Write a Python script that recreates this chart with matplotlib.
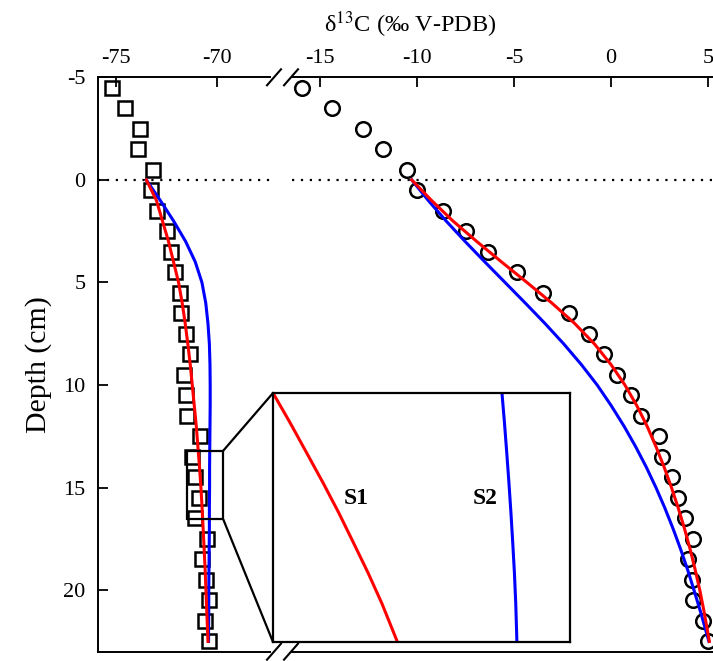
import matplotlib

matplotlib.use("Agg")
import matplotlib.pyplot as plt
from matplotlib.lines import Line2D
from matplotlib.patches import ConnectionPatch, Rectangle

plt.rcParams["font.family"] = ["Liberation Serif", "DejaVu Serif"]
plt.rcParams["mathtext.fontset"] = "stix"
plt.rcParams["axes.unicode_minus"] = False

# measured profiles (depth in cm, d13C in permil)
sample_depth = [-4.5, -3.5, -2.5, -1.5, -0.5, 0.5, 1.5, 2.5, 3.5, 4.5, 5.5, 6.5, 7.5, 8.5,
                9.5, 10.5, 11.5, 12.5, 13.5, 14.5, 15.5, 16.5, 17.5, 18.5, 19.5, 20.5,
                21.5, 22.5]
ch4_d13c = [-75.21, -74.55, -73.81, -73.91, -73.16, -73.27, -72.95, -72.45, -72.28, -72.06,
            -71.82, -71.78, -71.52, -71.32, -71.62, -71.52, -71.48, -70.82, -71.23, -71.07,
            -70.91, -71.07, -70.49, -70.74, -70.52, -70.41, -70.57, -70.41]
dic_d13c = [-15.94, -14.40, -12.77, -11.74, -10.53, -10.02, -8.64, -7.47, -6.32, -4.86,
            -3.49, -2.16, -1.12, -0.34, 0.29, 1.01, 1.57, 2.50, 2.61, 3.13, 3.47, 3.81,
            4.24, 3.98, 4.16, 4.21, 4.76, 5.02]

# model runs S1 (red) and S2 (blue)
model_depth = [0, 1, 2, 3, 4, 5, 6, 7, 8, 9, 10, 11, 12, 13, 14, 15, 16, 17, 18, 19, 20,
               21, 22, 22.5]
ch4_s1 = [-73.5, -73.0, -72.7, -72.4, -72.15, -71.9, -71.72, -71.57, -71.44, -71.32,
          -71.22, -71.12, -71.02, -70.94, -70.86, -70.79, -70.73, -70.68, -70.63, -70.58,
          -70.54, -70.5, -70.46, -70.44]
ch4_s2 = [-73.5, -72.81, -72.15, -71.55, -71.07, -70.74, -70.55, -70.44, -70.37, -70.34,
          -70.33, -70.33, -70.34, -70.35, -70.36, -70.36, -70.37, -70.37, -70.38, -70.39,
          -70.4, -70.4, -70.41, -70.41]
dic_s1 = [-10.27, -9.25, -8.15, -6.92, -5.64, -4.33, -3.05, -1.87, -0.85, 0.0, 0.72, 1.33,
          1.86, 2.32, 2.74, 3.12, 3.47, 3.79, 4.08, 4.34, 4.58, 4.79, 4.98, 5.07]
dic_s2 = [-10.27, -9.42, -8.5, -7.52, -6.5, -5.46, -4.42, -3.4, -2.43, -1.53, -0.71, 0.01,
          0.67, 1.27, 1.82, 2.32, 2.78, 3.2, 3.59, 3.95, 4.28, 4.6, 4.9, 5.05]

# close-up of the CH4 profile
zoom_x = (-71.47, -69.68)
zoom_depth = (13.2, 16.55)
inset_depth = [13.2, 13.6, 14.01, 14.41, 14.81, 15.22, 15.62, 16.03, 16.55]
inset_s1 = [-71.47, -71.367, -71.266, -71.168, -71.074, -70.984, -70.897, -70.814, -70.72]
inset_s2 = [-70.09, -70.075, -70.061, -70.048, -70.036, -70.025, -70.015, -70.007, -70.0]

W, H = 713, 661


def fx(px):
    return px / W


def fy(py):
    return 1 - py / H


fig = plt.figure(figsize=(W / 100, H / 100), dpi=100)
top, bottom = fy(77.3), fy(651.7)
ax1 = fig.add_axes([fx(98), bottom, fx(270) - fx(98), top - bottom])
ax2 = fig.add_axes([fx(292), bottom, 1 - fx(292), top - bottom], sharey=ax1)

marker_kw = dict(linestyle="none", mfc="none", mec="black", mew=1.8)
ax1.plot(ch4_d13c, sample_depth, marker="s", ms=9.8, **marker_kw)
ax1.plot(ch4_s2, model_depth, color="blue", lw=2.2)
ax1.plot(ch4_s1, model_depth, color="red", lw=2.2)
ax2.plot(dic_d13c, sample_depth, marker="o", ms=10.5, **marker_kw)
ax2.plot(dic_s2, model_depth, color="blue", lw=2.2)
ax2.plot(dic_s1, model_depth, color="red", lw=2.2)

for ax in (ax1, ax2):
    ax.axhline(0, color="black", ls=(0, (1, 3)), lw=1.6)
    ax.xaxis.tick_top()
    ax.tick_params(axis="both", direction="in", length=7, width=1.3, labelsize=16)
    ax.tick_params(axis="x", pad=7)
    ax.spines["bottom"].set_linewidth(1.4)
    ax.spines["top"].set_linewidth(1.4)
    ax.spines["right"].set_visible(False)

ax1.set_xlim(-75.9, -67.36)
ax1.set_xticks([-75, -70])
ax1.set_ylim(23.0, -5)
ax1.set_yticks([-5, 0, 5, 10, 15, 20])
ax1.tick_params(axis="y", pad=9)
ax1.spines["left"].set_linewidth(1.4)
ax1.set_ylabel("Depth (cm)", fontsize=21.5)
ax1.yaxis.set_label_coords(-0.267, 0.5)

ax2.set_xlim(-16.44, 5.26)
ax2.set_xticks([-15, -10, -5, 0, 5])
ax2.spines["left"].set_visible(False)
ax2.tick_params(axis="y", left=False, labelleft=False)

fig.text(fx(410), fy(25), "δ$^{13}$C (‰ V-PDB)", fontsize=17.5,
         ha="center", va="center")

# axis break marks
for py in (77.3, 651.7):
    for cx in (274, 291):
        fig.add_artist(Line2D([fx(cx - 7), fx(cx + 7)], [fy(py + 8), fy(py - 8)],
                              color="black", lw=1.5))

# zoom box and inset
ax1.add_patch(Rectangle((zoom_x[0], zoom_depth[0]), zoom_x[1] - zoom_x[0],
                        zoom_depth[1] - zoom_depth[0], fill=False, ec="black", lw=1.6,
                        zorder=5))
axin = fig.add_axes([fx(273), fy(642), fx(570) - fx(273), fy(393) - fy(642)], zorder=5)
axin.plot(inset_s1, inset_depth, color="red", lw=2.2)
axin.plot(inset_s2, inset_depth, color="blue", lw=2.2)
axin.set_xlim(*zoom_x)
axin.set_ylim(zoom_depth[1], zoom_depth[0])
axin.set_xticks([])
axin.set_yticks([])
for sp in axin.spines.values():
    sp.set_linewidth(1.6)
axin.text(-70.97, 14.62, "S1", fontsize=17, fontweight="bold", ha="center", va="center")
axin.text(-70.19, 14.62, "S2", fontsize=17, fontweight="bold", ha="center", va="center")

for corner_y, frac_y in ((zoom_depth[0], 1), (zoom_depth[1], 0)):
    con = ConnectionPatch(xyA=(zoom_x[1], corner_y), coordsA="data", axesA=ax1,
                          xyB=(0, frac_y), coordsB="axes fraction", axesB=axin,
                          color="black", lw=1.6)
    fig.add_artist(con)

fig.savefig("out.png", dpi=100)
